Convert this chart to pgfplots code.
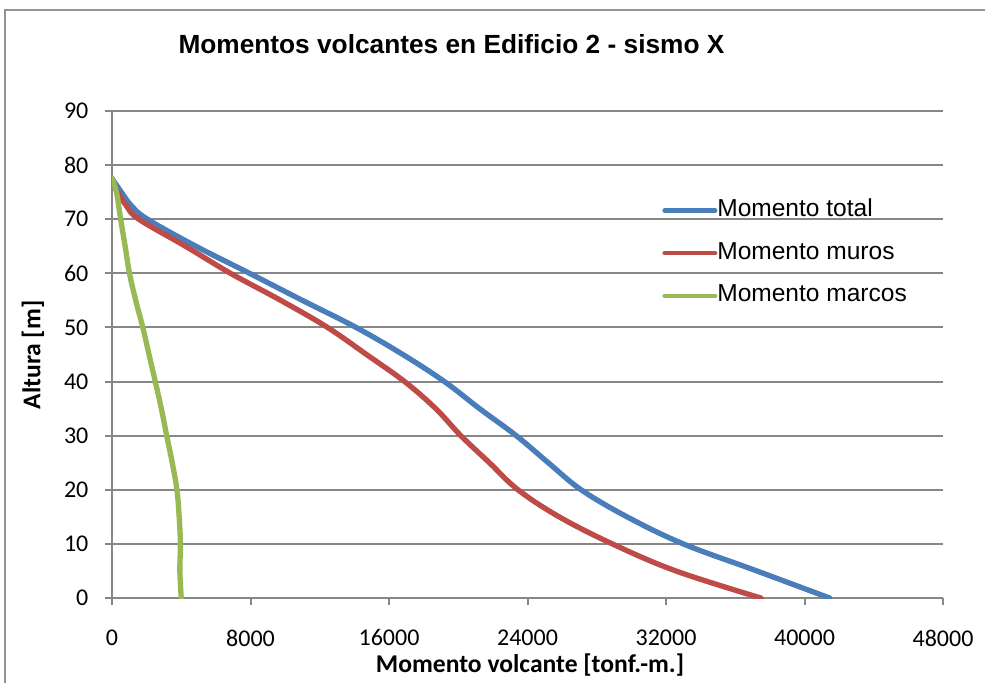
\documentclass[border=0pt]{standalone}
\usepackage{pgfplots}
\pgfplotsset{compat=1.18}
\usepackage{fontspec}
\setmainfont{Carlito}
\newfontfamily\arial{Liberation Sans}
\definecolor{cblue}{HTML}{4A7EBB}
\definecolor{cred}{HTML}{BE4B48}
\definecolor{cgreen}{HTML}{98B954}
\definecolor{gridc}{HTML}{878787}
\newcommand\tickfont{\fontsize{18}{20}\selectfont}
\begin{document}
\begin{tikzpicture}[x=0.75pt,y=-0.75pt]
\path[use as bounding box] (0,0) rectangle (985,682);
\begin{scope}
\clip (0,0) rectangle (985,682);
\draw[gridc!90, line width=1.5pt] (5,700) -- (5,10) -- (1000,10);
\end{scope}
\begin{axis}[
  at={(84pt,-448.5pt)}, anchor=south west,
  scale only axis, width=623.25pt, height=365.25pt,
  xmin=0, xmax=48000, ymin=0, ymax=90,
  xtick={0,8000,...,48000}, ytick={0,10,...,90},
  scaled x ticks=false,
  /pgf/number format/assume math mode=true,
  xticklabels={0,8000,16000,24000,32000,40000,48000},
  yticklabels={0,10,20,30,40,50,60,70,80,90},
  xticklabel style={font=\tickfont, inner sep=0pt, anchor=north, yshift=-18pt},
  yticklabel style={font=\tickfont, inner sep=0pt, anchor=east, xshift=-12pt},
  axis x line*=bottom, axis y line*=left,
  axis line style={gridc, line width=1.5pt, -},
  tick align=outside, major tick length=5.5pt,
  tick style={gridc, line width=1.5pt},
  ymajorgrids, major grid style={gridc, line width=1.5pt},
  title={\arial\bfseries Momentos volcantes en Edificio 2 - sismo X},
  title style={at={(axis description cs:0.4085,1.121)}, anchor=center, font=\fontsize{19.7}{22}\selectfont, inner sep=0pt},
  xlabel={\bfseries Momento volcante [tonf.-m.]},
  xlabel style={at={(axis description cs:0.503,-0.1376)}, anchor=center, font=\fontsize{19.2}{21}\selectfont, inner sep=0pt},
  ylabel={\bfseries Altura [m]},
  ylabel style={at={(axis description cs:-0.0951,0.499)}, anchor=center, rotate=0, font=\fontsize{19.2}{21}\selectfont, inner sep=0pt},
  legend style={at={(axis description cs:0.662,0.708)}, anchor=west, draw=none, fill=none,
    font=\arial\fontsize{18.4}{20}\selectfont, row sep=15pt, inner sep=0pt,
    nodes={inner sep=0pt, text height=13pt, text depth=4pt}},
  legend cell align=left,
  legend image code/.code={\draw[#1, line width=3.2pt] (0pt,0pt) -- (38pt,0pt);},
  /tikz/every odd column/.append style={column sep=0pt},
  every axis plot post/.append style={line width=4pt, line join=round, line cap=round, smooth, tension=0.6},
]
\addplot[cblue] coordinates {
(41450,0) (37250,5) (33000,10) (29750,15) (27100,20) (25200,25) (23350,30)
(21230,35) (19200,40) (16800,45) (14100,50) (11000,55) (7950,60) (4850,65)
(2050,70) (1120,72.5) (540,75) (0,77.5)};
\addlegendentry{Momento total}
\addplot[cred] coordinates {
(37480,0) (32570,5) (28900,10) (25830,15) (23450,20) (21800,25) (20150,30)
(18700,35) (16900,40) (14700,45) (12450,50) (9750,55) (6850,60) (4250,65)
(1550,70) (830,72.5) (330,75) (120,76.5) (0,77.5)};
\addlegendentry{Momento muros}
\addplot[cgreen] coordinates {
(4000,0) (3920,5) (3950,10) (3880,15) (3750,20) (3480,25) (3160,30)
(2850,35) (2500,40) (2140,45) (1780,50) (1370,55) (1010,60) (760,65)
(500,70) (260,75) (0,77.5)};
\addlegendentry{Momento marcos}
\end{axis}
\end{tikzpicture}
\end{document}
